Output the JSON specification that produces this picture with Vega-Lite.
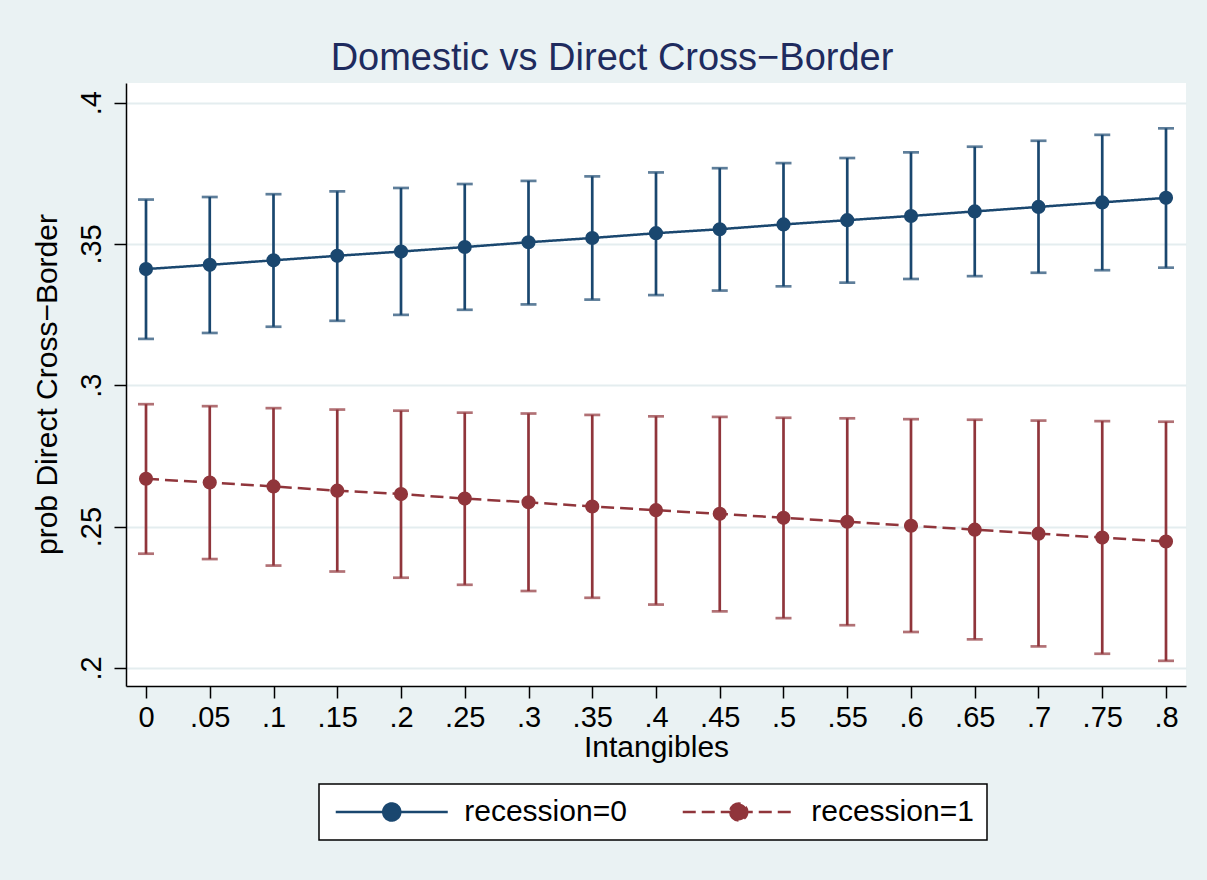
{
  "$schema": "https://vega.github.io/schema/vega-lite/v6.json",
  "width": 1060,
  "height": 603,
  "autosize": {"type": "none"},
  "padding": {"left": 126, "top": 83, "right": 21, "bottom": 194},
  "background": "#eaf2f3",
  "title": {
    "text": "Domestic vs Direct Cross−Border",
    "font": "Liberation Sans",
    "fontSize": 38,
    "fontWeight": "normal",
    "color": "#1e2b5e",
    "anchor": "middle",
    "frame": "group",
    "dx": -44,
    "dy": 30,
    "baseline": "alphabetic",
    "offset": 5
  },
  "config": {
    "view": {"stroke": null, "fill": "white"},
    "axis": {
      "domainColor": "black",
      "domainWidth": 1.5,
      "tickColor": "black",
      "tickWidth": 1.5,
      "tickSize": 12,
      "labelFont": "Liberation Sans",
      "labelFontSize": 29,
      "labelColor": "black",
      "titleFont": "Liberation Sans",
      "titleFontSize": 30,
      "titleFontWeight": "normal",
      "titleColor": "black",
      "gridColor": "#e4edef",
      "gridWidth": 2
    }
  },
  "data": {
    "values": [
      {"x": 0, "group": "recession=0", "m": 0.3411, "lo": 0.3164, "hi": 0.3657},
      {"x": 0.05, "group": "recession=0", "m": 0.3426, "lo": 0.3185, "hi": 0.3666},
      {"x": 0.1, "group": "recession=0", "m": 0.3442, "lo": 0.3207, "hi": 0.3676},
      {"x": 0.15, "group": "recession=0", "m": 0.3458, "lo": 0.3228, "hi": 0.3686},
      {"x": 0.2, "group": "recession=0", "m": 0.3473, "lo": 0.3249, "hi": 0.3698},
      {"x": 0.25, "group": "recession=0", "m": 0.3489, "lo": 0.3267, "hi": 0.3712},
      {"x": 0.3, "group": "recession=0", "m": 0.3506, "lo": 0.3286, "hi": 0.3723},
      {"x": 0.35, "group": "recession=0", "m": 0.3521, "lo": 0.3303, "hi": 0.3739},
      {"x": 0.4, "group": "recession=0", "m": 0.3538, "lo": 0.3319, "hi": 0.3753},
      {"x": 0.45, "group": "recession=0", "m": 0.3552, "lo": 0.3335, "hi": 0.3768},
      {"x": 0.5, "group": "recession=0", "m": 0.3569, "lo": 0.3350, "hi": 0.3786},
      {"x": 0.55, "group": "recession=0", "m": 0.3584, "lo": 0.3363, "hi": 0.3804},
      {"x": 0.6, "group": "recession=0", "m": 0.3599, "lo": 0.3376, "hi": 0.3824},
      {"x": 0.65, "group": "recession=0", "m": 0.3615, "lo": 0.3386, "hi": 0.3844},
      {"x": 0.7, "group": "recession=0", "m": 0.3631, "lo": 0.3398, "hi": 0.3865},
      {"x": 0.75, "group": "recession=0", "m": 0.3647, "lo": 0.3407, "hi": 0.3886},
      {"x": 0.8, "group": "recession=0", "m": 0.3663, "lo": 0.3416, "hi": 0.3909},
      {"x": 0, "group": "recession=1", "m": 0.2669, "lo": 0.2404, "hi": 0.2933},
      {"x": 0.05, "group": "recession=1", "m": 0.2656, "lo": 0.2385, "hi": 0.2926},
      {"x": 0.1, "group": "recession=1", "m": 0.2642, "lo": 0.2362, "hi": 0.2919},
      {"x": 0.15, "group": "recession=1", "m": 0.2627, "lo": 0.2341, "hi": 0.2914},
      {"x": 0.2, "group": "recession=1", "m": 0.2615, "lo": 0.2319, "hi": 0.2910},
      {"x": 0.25, "group": "recession=1", "m": 0.2599, "lo": 0.2294, "hi": 0.2903},
      {"x": 0.3, "group": "recession=1", "m": 0.2586, "lo": 0.2272, "hi": 0.2900},
      {"x": 0.35, "group": "recession=1", "m": 0.2571, "lo": 0.2248, "hi": 0.2895},
      {"x": 0.4, "group": "recession=1", "m": 0.2558, "lo": 0.2224, "hi": 0.2890},
      {"x": 0.45, "group": "recession=1", "m": 0.2545, "lo": 0.2200, "hi": 0.2888},
      {"x": 0.5, "group": "recession=1", "m": 0.2531, "lo": 0.2176, "hi": 0.2885},
      {"x": 0.55, "group": "recession=1", "m": 0.2517, "lo": 0.2151, "hi": 0.2883},
      {"x": 0.6, "group": "recession=1", "m": 0.2503, "lo": 0.2127, "hi": 0.2880},
      {"x": 0.65, "group": "recession=1", "m": 0.2489, "lo": 0.2101, "hi": 0.2878},
      {"x": 0.7, "group": "recession=1", "m": 0.2475, "lo": 0.2076, "hi": 0.2875},
      {"x": 0.75, "group": "recession=1", "m": 0.2461, "lo": 0.2050, "hi": 0.2873},
      {"x": 0.8, "group": "recession=1", "m": 0.2447, "lo": 0.2025, "hi": 0.2871}
    ]
  },
  "encoding": {
    "x": {
      "field": "x",
      "type": "quantitative",
      "scale": {"domain": [-0.01569, 0.81569], "nice": false, "zero": false},
      "axis": {
        "values": [0, 0.05, 0.1, 0.15, 0.2, 0.25, 0.3, 0.35, 0.4, 0.45, 0.5, 0.55, 0.6, 0.65, 0.7, 0.75, 0.8],
        "labelExpr": "datum.value == 0 ? '0' : substring(format(datum.value, '.2~f'), 1)",
        "title": "Intangibles",
        "grid": false,
        "labelPadding": 5,
        "labelFlush": false,
        "labelOverlap": false,
        "titleX": 530,
        "titleY": 70,
        "titleAlign": "center",
        "titleBaseline": "alphabetic"
      }
    },
    "color": {
      "field": "group",
      "type": "nominal",
      "scale": {"domain": ["recession=0", "recession=1"], "range": ["#1a476f", "#90353b"]},
      "legend": {
        "title": null,
        "orient": "none",
        "legendX": 193,
        "legendY": 701,
        "direction": "horizontal",
        "columns": 2,
        "columnPadding": 50,
        "padding": 13,
        "fillColor": "white",
        "strokeColor": "black",
        "cornerRadius": 0,
        "symbolType": "M-5.6,0H5.6M-0.85,0a0.85,0.85 0 1,0 1.7,0a0.85,0.85 0 1,0 -1.7,0",
        "symbolSize": 400,
        "symbolStrokeWidth": 2.5,
        "symbolOffset": 44.75,
        "labelOffset": 57.5,
        "labelFont": "Liberation Sans",
        "labelFontSize": 30,
        "labelColor": "black",
        "labelLimit": 400,
        "encode": {
          "legend": {"update": {"strokeWidth": {"value": 1.5}}},
          "symbols": {
            "update": {
              "fill": {"scale": "color", "field": "value"},
              "stroke": {"scale": "color", "field": "value"},
              "opacity": {"value": 1},
              "strokeDash": {"signal": "datum.value === 'recession=1' ? [10, 6] : []"}
            }
          }
        }
      }
    }
  },
  "layer": [
    {
      "mark": {"type": "rule", "strokeWidth": 2.7},
      "encoding": {
        "y": {
          "field": "lo",
          "type": "quantitative",
          "scale": {"domain": [0.19359, 0.40694], "nice": false, "zero": false},
          "axis": {
            "values": [0.2, 0.25, 0.3, 0.35, 0.4],
            "labelExpr": "substring(format(datum.value, '.2~f'), 1)",
            "title": "prob Direct Cross−Border",
            "grid": true,
            "labelAngle": -90,
            "labelAlign": "center",
            "labelBaseline": "alphabetic",
            "labelPadding": 14,
            "labelOverlap": false,
            "titleAngle": -90,
            "titleX": -70,
            "titleY": 301,
            "titleAlign": "center",
            "titleBaseline": "alphabetic"
          }
        },
        "y2": {"field": "hi"}
      }
    },
    {
      "mark": {"type": "tick", "orient": "horizontal", "size": 16, "thickness": 2.7},
      "encoding": {
        "y": {
          "field": "lo",
          "type": "quantitative",
          "title": "prob Direct Cross−Border",
          "scale": {"domain": [0.19359, 0.40694], "nice": false, "zero": false}
        }
      }
    },
    {
      "mark": {"type": "tick", "orient": "horizontal", "size": 16, "thickness": 2.7},
      "encoding": {
        "y": {
          "field": "hi",
          "type": "quantitative",
          "title": "prob Direct Cross−Border",
          "scale": {"domain": [0.19359, 0.40694], "nice": false, "zero": false}
        }
      }
    },
    {
      "mark": {"type": "line", "strokeWidth": 2.5},
      "encoding": {
        "y": {
          "field": "m",
          "type": "quantitative",
          "title": "prob Direct Cross−Border",
          "scale": {"domain": [0.19359, 0.40694], "nice": false, "zero": false}
        },
        "strokeDash": {
          "field": "group",
          "type": "nominal",
          "scale": {"domain": ["recession=0", "recession=1"], "range": [[1, 0], [13, 6]]},
          "legend": null
        }
      }
    },
    {
      "mark": {"type": "point", "filled": true, "size": 200, "opacity": 1},
      "encoding": {
        "y": {
          "field": "m",
          "type": "quantitative",
          "title": "prob Direct Cross−Border",
          "scale": {"domain": [0.19359, 0.40694], "nice": false, "zero": false}
        }
      }
    }
  ]
}
